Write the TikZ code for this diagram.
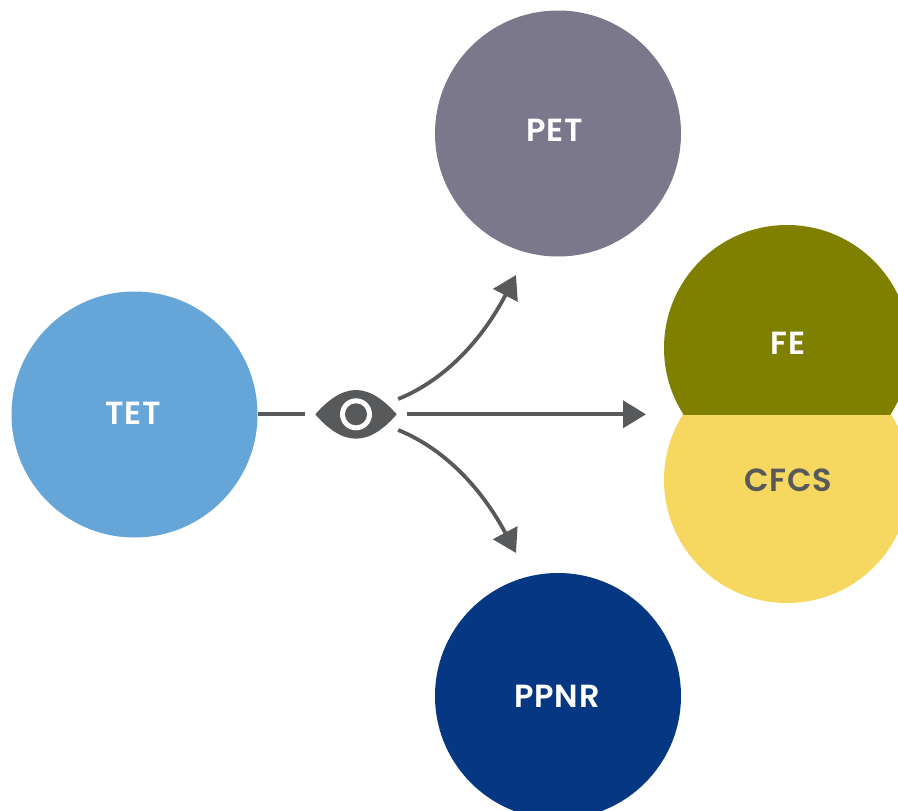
\documentclass[tikz,border=0pt]{standalone}
\usepackage{fontspec}
\setmainfont{Poppins}[UprightFont=* SemiBold,LetterSpace=2.5]
\usetikzlibrary{arrows.meta}
\definecolor{tetc}{HTML}{66A5D8}
\definecolor{petc}{HTML}{7C788C}
\definecolor{fec}{HTML}{808000}
\definecolor{cfc}{HTML}{F6D860}
\definecolor{ppc}{HTML}{053782}
\definecolor{ink}{HTML}{58595B}
\tikzset{
  bubble/.style={circle,minimum size=246pt,inner sep=0pt},
  label/.style={inner sep=0pt,font=\fontsize{32}{32}\selectfont},
  link/.style={draw=ink,line width=3.8pt},
  flow/.style={link,-{Triangle[length=23pt,width=27pt]}},
}
\begin{document}
\begin{tikzpicture}[x=1pt,y=-1pt]
\useasboundingbox (0,0) rectangle (898,811);
\clip (0,0) rectangle (898,811);
\node[bubble,fill=tetc] (tet) at (134.5,414.5) {};
\node[bubble,fill=petc] (pet) at (558,133.5) {};
\node[bubble,fill=ppc] (ppnr) at (558,696) {};
\begin{scope}
  \clip (600,414) rectangle (898,811);
  \fill[cfc] (787,480) circle (123);
\end{scope}
\begin{scope}
  \clip (600,100) rectangle (898,414);
  \fill[fec] (787,348) circle (123);
\end{scope}
\node[label,text=white] at (133,413) {TET};
\node[label,text=white] at (555,130) {PET};
\node[label,text=white] at (557,696) {PPNR};
\node[label,text=white] (fe) at (788,343) {FE};
\node[label,text=ink] (cfcs) at (788,480.5) {CFCS};
\coordinate (eyeC) at (356,414.3);
\node[inner sep=0pt,minimum width=81pt,minimum height=49pt] (eye) at (eyeC) {};
\fill[ink] (eye.west) .. controls (327,401) and (341,390) .. (356,390)
  .. controls (371,390) and (385,401) .. (eye.east)
  .. controls (385,428) and (371,438.7) .. (356,438.7)
  .. controls (341,438.7) and (327,428) .. (eye.west) -- cycle;
\fill[white] (eyeC) circle (16);
\fill[ink] (eyeC) circle (11);
\coordinate (upTip) at (516,275);
\coordinate (midTip) at (646,414.3);
\coordinate (lowTip) at (516,553);
\draw[link] (tet.east |- eyeC) -- ([xshift=-10pt]eye.west);
\draw[flow] ([xshift=10pt]eye.east) -- (midTip);
\draw[flow] ([xshift=1.5pt,yshift=15.3pt]eye.east) .. controls (445,380) and (482,340) .. (upTip);
\draw[flow] ([xshift=1.5pt,yshift=-15.7pt]eye.east) .. controls (445,449) and (482,489) .. (lowTip);
\end{tikzpicture}
\end{document}
